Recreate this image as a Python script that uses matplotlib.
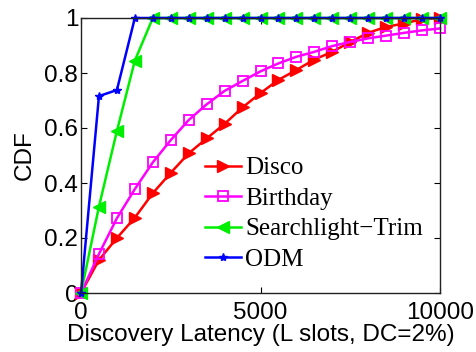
import matplotlib
matplotlib.use("Agg")
import matplotlib.pyplot as plt

x_disco = [0, 500, 1000, 1500, 2000, 2500, 3000, 3500, 4000, 4500, 5000, 5500, 6000, 6500, 7000, 7500, 8000, 8500, 9000, 9500, 10000]
y_disco = [0, 0.12, 0.20, 0.274, 0.363, 0.437, 0.508, 0.562, 0.615, 0.675, 0.727, 0.775, 0.811, 0.849, 0.877, 0.913, 0.946, 0.968, 0.98, 0.996, 1.0]

x_bday = [0, 500, 1000, 1500, 2000, 2500, 3000, 3500, 4000, 4500, 5000, 5500, 6000, 6500, 7000, 7500, 8000, 8500, 9000, 9500, 10000]
y_bday = [0, 0.142, 0.272, 0.378, 0.475, 0.556, 0.629, 0.686, 0.735, 0.771, 0.806, 0.835, 0.859, 0.877, 0.898, 0.913, 0.926, 0.936, 0.946, 0.955, 0.962]

x_search = [0, 500, 1000, 1500, 2000, 2500, 3000, 3500, 4000, 4500, 5000, 5500, 6000, 6500, 7000, 7500, 8000, 8500, 9000, 9500, 10000]
y_search = [0, 0.314, 0.589, 0.845, 1, 1, 1, 1, 1, 1, 1, 1, 1, 1, 1, 1, 1, 1, 1, 1, 1]

x_odm = [0, 500, 1000, 1500, 2000, 2500, 3000, 3500, 4000, 4500, 5000, 5500, 6000, 6500, 7000, 7500, 8000, 8500, 9000, 9500, 10000]
y_odm = [0, 0.716, 0.738, 1, 1, 1, 1, 1, 1, 1, 1, 1, 1, 1, 1, 1, 1, 1, 1, 1, 1]

labels = ["Disco", "Birthday", "Searchlight\u2212Trim", "ODM"]
xticks = [0, 5000, 10000]
yticks = [0, 0.2, 0.4, 0.6, 0.8, 1]
ytick_labels = ["0", "0.2", "0.4", "0.6", "0.8", "1"]

plt.rcParams['font.family'] = ['Liberation Sans', 'DejaVu Sans']

fig = plt.figure(figsize=(4.76, 3.52), dpi=100)
ax = fig.add_axes([81/476, 1-293/352, (440-81)/476, (293-18)/352])

ax.plot(x_disco, y_disco, color='#ff0000', lw=1.8, marker='>', ms=8, mfc='#ff0000', mec='#ff0000', label=labels[0], clip_on=False)
ax.plot(x_bday, y_bday, color='#ff00ff', lw=1.8, marker='s', ms=7, mfc='none', mec='#ff00ff', mew=1.3, label=labels[1], clip_on=False)
ax.plot(x_search, y_search, color='#00ee00', lw=1.8, marker='<', ms=8, mfc='#00ee00', mec='#00ee00', label=labels[2], clip_on=False)
ax.plot(x_odm, y_odm, color='#0000ff', lw=1.8, marker='*', ms=6, mfc='#0000ff', mec='#0000ff', label=labels[3], clip_on=False)

ax.set_xlim(0, 10000)
ax.set_ylim(0, 1)
ax.set_xticks(xticks)
ax.set_xticklabels([str(v) for v in xticks])
ax.set_yticks(yticks)
ax.set_yticklabels(ytick_labels)
ax.tick_params(direction='in', length=4, width=0.8, labelsize=17.5, top=True, right=True)
ax.tick_params(axis='x', pad=6.5)
ax.tick_params(axis='y', pad=2)
for s in ax.spines.values():
    s.set_linewidth(1.0)
    s.set_color('#222222')

ax.set_xlabel("Discovery Latency (L slots, DC=2%)", fontsize=17.5, labelpad=0)
ax.set_ylabel("CDF", fontsize=17.5, labelpad=6)

leg = ax.legend(loc='upper left', bbox_to_anchor=(205/476, 1-157/352), bbox_transform=fig.transFigure,
                frameon=False, prop={'family': 'Liberation Serif', 'size': 18},
                handlelength=1.45, handletextpad=0.15, labelspacing=0.32, borderaxespad=0, borderpad=0)

fig.savefig("out.png", dpi=100)
